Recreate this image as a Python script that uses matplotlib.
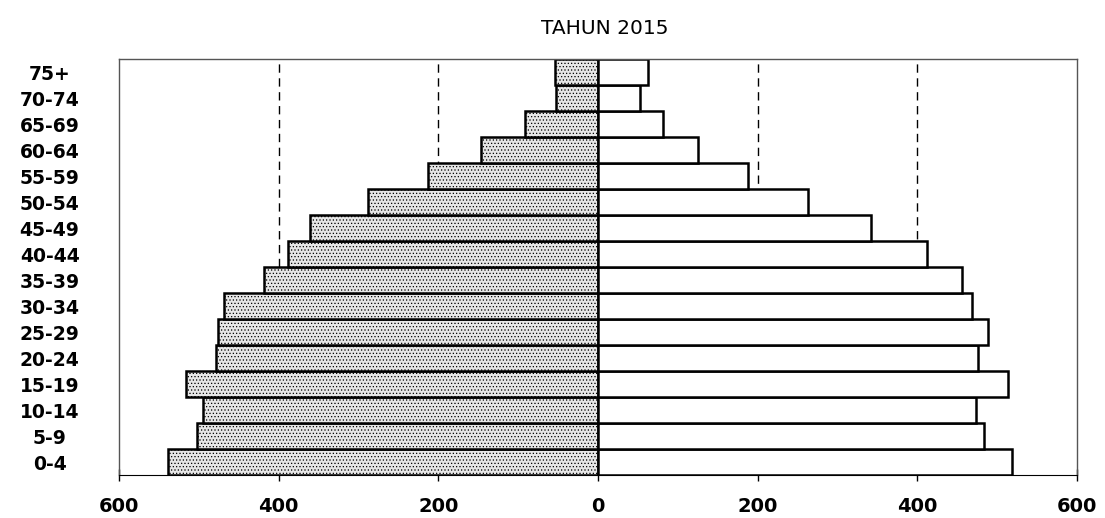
import numpy as np
import matplotlib
matplotlib.use("Agg")
import matplotlib.pyplot as plt

groups = ["0-4", "5-9", "10-14", "15-19", "20-24", "25-29", "30-34", "35-39",
          "40-44", "45-49", "50-54", "55-59", "60-64", "65-69", "70-74", "75+"]
left_vals = [539, 502, 495, 516, 479, 476, 468, 418,
             388, 361, 288, 213, 146, 91, 53, 54]
right_vals = [519, 483, 474, 513, 476, 488, 469, 456,
              412, 342, 263, 188, 125, 82, 52, 63]
xticks = [-600, -400, -200, 0, 200, 400, 600]

plt.rcParams['hatch.linewidth'] = 0.5
plt.rcParams['hatch.color'] = '#555555'

fig = plt.figure(figsize=(11.05, 5.18), dpi=100)
ax = fig.add_axes([0.1077, 0.083, 0.867, 0.803])

y = np.arange(len(groups))

# dashed guide lines behind the bars
for g in [-400, -200, 200, 400]:
    ax.axvline(g, color='black', lw=1, ls=(0, (6, 4)), zorder=0)

ax.barh(y, -np.array(left_vals), height=1.0, color='#e6e6e6', hatch='.....',
        edgecolor='black', linewidth=1.8, zorder=2)
ax.barh(y, right_vals, height=1.0, color='white',
        edgecolor='black', linewidth=1.8, zorder=2)

ax.set_xlim(-600, 600)
ax.set_ylim(-0.5, len(groups) - 0.5)

ax.set_xticks(xticks)
ax.set_xticklabels([str(abs(t)) for t in xticks], fontsize=14, fontweight='bold')
ax.tick_params(axis='x', direction='inout', length=8, width=1, pad=12)

ax.set_yticks(y)
ax.set_yticklabels(groups, fontsize=13.5, fontweight='bold', ha='center')
ax.tick_params(axis='y', length=0, pad=50)

for s in ['top', 'right', 'left']:
    ax.spines[s].set_color('#555555')
    ax.spines[s].set_linewidth(1)
ax.spines['bottom'].set_color('black')

fig.text(0.547, 0.945, "TAHUN 2015", ha='center', va='center',
         fontsize=14.5, family='DejaVu Sans')

fig.savefig("out.png", dpi=100)
